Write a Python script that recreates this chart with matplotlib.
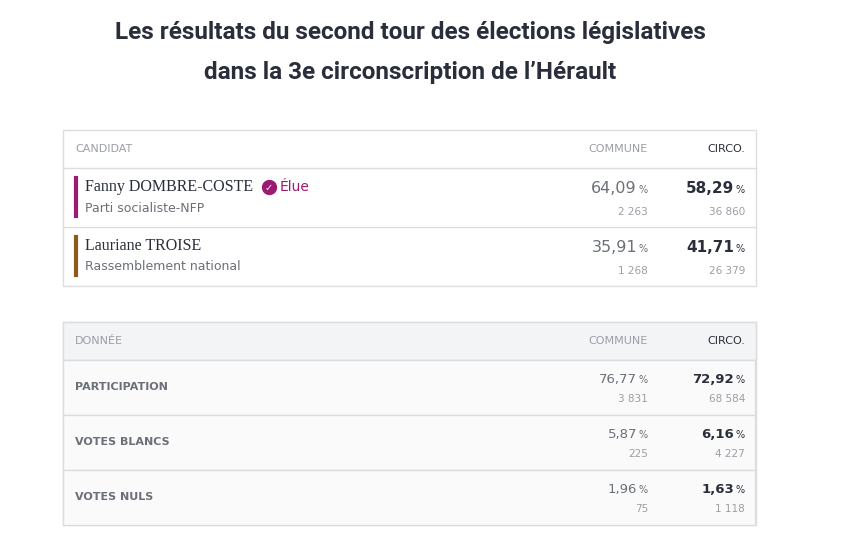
import matplotlib.pyplot as plt
from matplotlib.patches import Rectangle

title_lines = ["Les résultats du second tour des élections législatives",
               "dans la 3e circonscription de l’Hérault"]

candidats = ["Fanny DOMBRE-COSTE", "Lauriane TROISE"]
partis = ["Parti socialiste-NFP", "Rassemblement national"]
couleurs = ["#9c1a72", "#8b5a1c"]
pct_commune = ["64,09", "35,91"]
voix_commune = ["2 263", "1 268"]
pct_circo = ["58,29", "41,71"]
voix_circo = ["36 860", "26 379"]

donnees = ["PARTICIPATION", "VOTES BLANCS", "VOTES NULS"]
d_pct_commune = ["76,77", "5,87", "1,96"]
d_nb_commune = ["3 831", "225", "75"]
d_pct_circo = ["72,92", "6,16", "1,63"]
d_nb_circo = ["68 584", "4 227", "1 118"]

W, H = 849, 546
fig = plt.figure(figsize=(W / 100, H / 100), dpi=100)
ax = fig.add_axes([0, 0, 1, 1])
ax.set_xlim(0, W)
ax.set_ylim(H, 0)
ax.axis("off")

dark = "#2a2e3b"
grey = "#6b6f78"
light = "#9a9ea6"
line = "#dcdde0"

# title
for i, t in enumerate(title_lines):
    ax.text(410, 32 + i * 41, t, ha="center", va="center", fontsize=17.5,
            fontweight="bold", color=dark, family="Roboto")

def box(y0, y1, header_bg):
    ax.add_patch(Rectangle((63, y0), 693, y1 - y0, fill=False, ec=line, lw=1))
    if header_bg:
        ax.add_patch(Rectangle((63, y0), 693, 38, fc="#f3f4f6", ec=line, lw=1))

def value(x, y, v, size, weight, color):
    ax.text(x - 11, y, v, ha="right", va="baseline", fontsize=size,
            fontweight=weight, color=color)
    ax.text(x, y, "%", ha="right", va="baseline", fontsize=7, color=color)

# table 1
box(130, 286, False)
ax.plot([63, 756], [168, 168], color=line, lw=1)
ax.text(75, 149, "CANDIDAT", va="center", fontsize=8, color=light)
ax.text(648, 149, "COMMUNE", ha="right", va="center", fontsize=8, color=light)
ax.text(745, 149, "CIRCO.", ha="right", va="center", fontsize=8, color=dark)
for i in range(len(candidats)):
    y0 = 168 + i * 59
    if i:
        ax.plot([63, 756], [y0, y0], color=line, lw=1)
    ax.plot([76, 76], [y0 + 10, y0 + 48], color=couleurs[i], lw=3)
    ax.text(85, y0 + 19, candidats[i], va="center", fontsize=11.5,
            family="Liberation Serif", color=dark)
    ax.text(85, y0 + 40, partis[i], va="center", fontsize=9, color=grey)
    value(648, y0 + 25, pct_commune[i], 11.5, "normal", grey)
    value(745, y0 + 25, pct_circo[i], 11, "bold", dark)
    ax.text(648, y0 + 44, voix_commune[i], ha="right", va="center", fontsize=7.5, color=light)
    ax.text(745, y0 + 44, voix_circo[i], ha="right", va="center", fontsize=7.5, color=light)
ax.plot(269, 187, "o", ms=10, color=couleurs[0])
ax.text(269, 187.5, "✓", ha="center", va="center", fontsize=7, color="white", fontweight="bold")
ax.text(280, 187, "Élue", va="center", fontsize=10, color=couleurs[0])

# table 2
box(322, 525, True)
ax.text(75, 341, "DONNÉE", va="center", fontsize=8, color=light)
ax.text(648, 341, "COMMUNE", ha="right", va="center", fontsize=8, color=light)
ax.text(745, 341, "CIRCO.", ha="right", va="center", fontsize=8, color=dark)
for i in range(len(donnees)):
    y0 = 360 + i * 55
    ax.add_patch(Rectangle((63.5, y0), 692, 55, fc="#fafafa", ec=line, lw=1))
    ax.text(75, y0 + 27, donnees[i], va="center", fontsize=8, fontweight="bold", color=grey)
    value(648, y0 + 23, d_pct_commune[i], 9.5, "normal", grey)
    value(745, y0 + 23, d_pct_circo[i], 9.5, "bold", dark)
    ax.text(648, y0 + 39, d_nb_commune[i], ha="right", va="center", fontsize=7.5, color=light)
    ax.text(745, y0 + 39, d_nb_circo[i], ha="right", va="center", fontsize=7.5, color=light)

fig.savefig("out.png", dpi=100, facecolor="white")
